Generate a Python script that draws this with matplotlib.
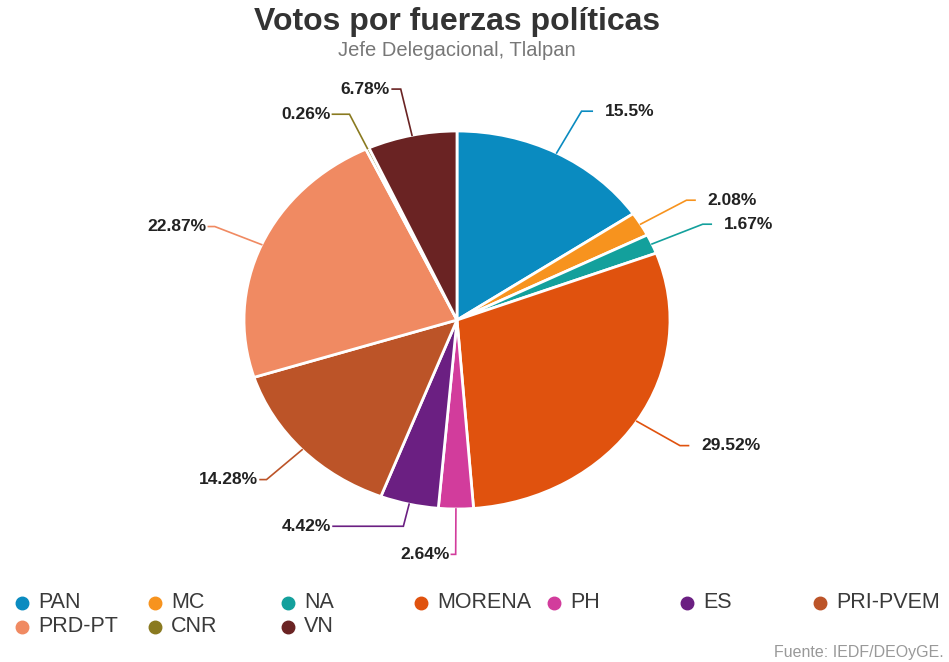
import matplotlib.pyplot as plt
import numpy as np

parties = ['PAN', 'MC', 'NA', 'MORENA', 'PH', 'ES', 'PRI-PVEM', 'PRD-PT', 'CNR', 'VN']
shares = [15.5, 2.08, 1.67, 29.52, 2.64, 4.42, 14.28, 22.87, 0.26, 6.78]
labels = ['15.5%', '2.08%', '1.67%', '29.52%', '2.64%', '4.42%', '14.28%', '22.87%', '0.26%', '6.78%']
colors = ['#0a8bc0', '#f7931e', '#13a09c', '#e0520e', '#d23c9c',
          '#6b1f82', '#bc5428', '#f08a62', '#8a7a20', '#6a2323']

plt.rcParams['font.family'] = ['Liberation Sans', 'DejaVu Sans']

W, H = 949, 662
fig = plt.figure(figsize=(W / 100, H / 100), dpi=100)

# pie in the source image is stretched sideways, so keep aspect 'auto'
rx, ry = 213, 189          # pixel radii
cx, cy = 457, 320          # pixel centre (from top)
lim = 1.6
ax = fig.add_axes([(cx - lim * rx) / W, (H - cy - lim * ry) / H,
                   2 * lim * rx / W, 2 * lim * ry / H])

wedges, _ = ax.pie(shares, colors=colors, startangle=90, counterclock=False,
                   wedgeprops=dict(edgecolor='white', linewidth=2))
ax.set_aspect('auto')
ax.set_xlim(-lim, lim)
ax.set_ylim(-lim, lim)
ax.axis('off')

# leader lines + labels
elbow_r = [1.25, 1.25, 1.26, 1.24, 1.24, 1.12, 1.23, 1.24, 1.2, 1.25]
tail = [0.05, 0.04, 0.04, 0.04, -0.02, -0.33, -0.03, -0.03, -0.08, -0.04]
for w, lab, col, er, tl in zip(wedges, labels, colors, elbow_r, tail):
    ang = np.deg2rad((w.theta1 + w.theta2) / 2)
    x0, y0 = np.cos(ang), np.sin(ang)
    x1, y1 = er * x0, er * y0
    x2 = x1 + tl
    ax.plot([x0, x1, x2], [y0, y1, y1], color=col, lw=1.2, solid_joinstyle='miter')
    ha = 'left' if tl > 0 else 'right'
    ax.text(x2 + (0.06 if tl > 0 else -0.01), y1, lab, ha=ha, va='center',
            fontsize=12.5, fontweight='bold', color='#222222')

fig.text(cx / W, 1 - 22 / H, 'Votos por fuerzas políticas', ha='center', va='center',
         fontsize=23, fontweight='bold', color='#333333')
fig.text(cx / W, 1 - 50 / H, 'Jefe Delegacional, Tlalpan', ha='center', va='center',
         fontsize=14.5, color='#777777')

# legend, drawn as a fixed grid like the original
for i, (name, col) in enumerate(zip(parties, colors)):
    c, r = i % 7, i // 7
    x = (22 + c * 133) / W
    y = 1 - (603 + r * 24) / H
    fig.lines.append(plt.Line2D([x], [y], marker='o', markersize=9, color=col,
                                transform=fig.transFigure, figure=fig))
    fig.text(x + 16 / W, y, name, ha='left', va='center', fontsize=15.5, color='#3a3a3a')

fig.text(944 / W, 1 - 652 / H, 'Fuente: IEDF/DEOyGE.', ha='right', va='center',
         fontsize=11.5, color='#999999')

fig.savefig('out.png', dpi=100, facecolor='white')
